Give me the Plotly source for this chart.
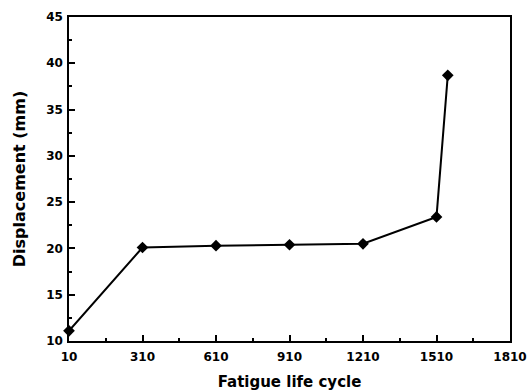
import plotly.graph_objects as go

cycles = [10, 310, 610, 910, 1210, 1510, 1556]
displacement = [11.1, 20.1, 20.3, 20.4, 20.5, 23.4, 38.7]

fnt = "DejaVu Sans, Liberation Sans, Arial, sans-serif"

fig = go.Figure()
fig.add_trace(go.Scatter(
    x=cycles, y=displacement, mode="lines+markers",
    line=dict(color="black", width=2),
    marker=dict(symbol="diamond", size=9, color="black"),
    showlegend=False, cliponaxis=False,
))

fig.update_layout(
    width=528, height=391,
    margin=dict(l=69, r=18, t=17, b=50),
    paper_bgcolor="white", plot_bgcolor="white",
    font=dict(family=fnt, color="black"),
    xaxis=dict(
        range=[10, 1810], tick0=10, dtick=300, automargin=False,
        ticks="inside", ticklen=6, tickwidth=1.5, tickcolor="black",
        ticklabelstandoff=4,
        showline=True, linecolor="black", linewidth=1.5, mirror=True,
        showgrid=False, zeroline=False,
        tickfont=dict(size=12, family=fnt, weight="bold"),
        minor=dict(ticks="inside", ticklen=3, tickcolor="black", dtick=150, tick0=10, showgrid=False),
        title=dict(text="<b>Fatigue life cycle</b>", font=dict(size=15, family=fnt), standoff=13),
    ),
    yaxis=dict(
        range=[10, 45], tick0=10, dtick=5, automargin=False,
        ticks="inside", ticklen=6, tickwidth=1.5, tickcolor="black",
        ticklabelstandoff=2,
        showline=True, linecolor="black", linewidth=1.5, mirror=True,
        showgrid=False, zeroline=False,
        tickfont=dict(size=12, family=fnt, weight="bold"),
        minor=dict(ticks="inside", ticklen=3, tickcolor="black", dtick=2.5, showgrid=False),
        title=dict(text="<b>Displacement (mm)</b>", font=dict(size=16, family=fnt), standoff=17),
    ),
)
fig.write_html("out.html")
